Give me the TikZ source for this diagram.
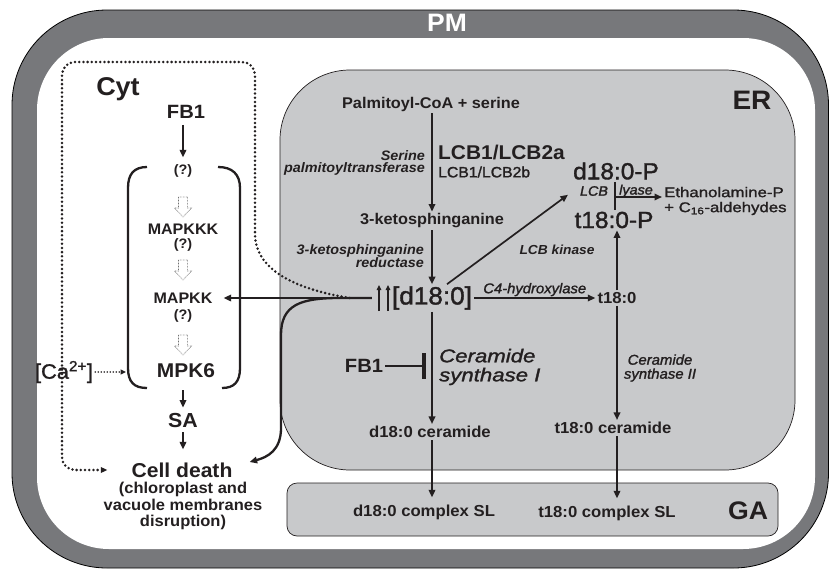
\documentclass[tikz,border=0pt]{standalone}
\usepackage{fontspec}
\setmainfont{Liberation Sans}[FakeStretch=1.05]
\newfontfamily\medf{Liberation Sans}[FakeStretch=1.05,FakeBold=1.5]
\newfontfamily\widef{Liberation Sans}[FakeStretch=1.2,FakeBold=1.5]
\usetikzlibrary{arrows.meta,calc}
\definecolor{ink}{HTML}{231F20}
\definecolor{ergray}{HTML}{C8C9CB}
\definecolor{pmgray}{HTML}{77787B}
\definecolor{blkgray}{HTML}{707070}
\newcommand\myfs[2]{\fontsize{#1}{#2}\selectfont}
\tikzset{
  base/.style={inner sep=2pt,text=ink},
  arr/.style={draw=ink,line width=1.7pt,-{Triangle[length=7.5pt,width=6.5pt]}},
  uparr/.style={draw=ink,line width=1.2pt,-{Triangle[length=5pt,width=4.5pt]}},
  dotln/.style={draw=ink,line width=2.8pt,line cap=round,dash pattern=on 0pt off 4.2pt},
  brk/.style={draw=ink,line width=2.3pt},
  blkline/.style={draw=blkgray,line width=0.6pt,dash pattern=on 0.7pt off 0.8pt},
  blk/.pic={\draw[blkline] (-4.5,0) -- (4.5,0) -- (4.5,11) -- (8.5,11) -- (0,20) -- (-8.5,11) -- (-4.5,11) -- cycle;}
}
\begin{document}
\begin{tikzpicture}[x=1pt,y=-1pt]
\useasboundingbox (0,0) rectangle (829,570);
\fill[white] (0,0) rectangle (829,570);
% plasma membrane
\draw[draw=black,line width=0.8pt,fill=pmgray,rounded corners=95pt] (12,10) rectangle (828.5,568);
\fill[white,rounded corners=72pt] (37,38) rectangle (815,549);
\node[inner sep=1pt,text=white,font=\bfseries\myfs{25.2}{25}] (pm) at (447,23) {PM};
% ER and GA
\draw[draw=ink,line width=0.7pt,fill=ergray,rounded corners=70pt] (280,70) rectangle (795,470);
\draw[draw=ink,line width=0.7pt,fill=ergray,rounded corners=10pt] (287,483) rectangle (778,536);
\node[base,font=\bfseries\myfs{26.7}{27}] (er) at (752,100) {ER};
\node[base,font=\bfseries\myfs{25.4}{26}] (ga) at (748,511) {GA};

% cytosol column
\node[base,font=\bfseries\myfs{25.7}{26}] (cyt) at (118,89) {Cyt};
\node[base,inner ysep=6pt,font=\bfseries\myfs{19.2}{20}] (fb1) at (186,112) {FB1};
\node[base,inner ysep=7pt,font=\bfseries\myfs{13.7}{14}] (q1) at (183,171) {(?)};
\node[base,font=\bfseries\myfs{15.3}{16}] (mkkk) at (183,229) {MAPKKK};
\node[base,font=\bfseries\myfs{13.7}{14}] (q2) at (183,245) {(?)};
\node[base,font=\bfseries\myfs{15.3}{16}] (mkk) at (183,298) {MAPKK};
\node[base,font=\bfseries\myfs{13.7}{14}] (q3) at (183,316) {(?)};
\node[base,font=\bfseries\myfs{19.9}{20}] (mpk6) at (186,371) {MPK6};
\node[base,font=\bfseries\myfs{20.3}{21}] (sa) at (183,421) {SA};
\node[base,font=\bfseries\myfs{20.1}{21}] (cd) at (182,470) {Cell death};
\node[base,align=center,font=\bfseries\myfs{15.7}{16.5}] (cdsub) at (183,506) {(chloroplast and\\vacuole membranes\\disruption)};
\node[base,font=\medf\myfs{20.8}{21}] (ca) at (64,372) {[Ca\textsuperscript{2+}]};
\pic at (183,197) {blk};
\pic at (183,260) {blk};
\pic at (183,335) {blk};
% brackets
\draw[brk] (147,167) .. controls (134,167) and (128,174) .. (128,188) -- (128,368) .. controls (128,382) and (134,388) .. (147,388);
\draw[brk] (218,167) .. controls (232,167) and (240,174) .. (240,188) -- (240,368) .. controls (240,382) and (234,388) .. (222,388);
\coordinate (brL) at (128,372);

% ER pathway
\node[base,font=\bfseries\myfs{15.5}{16}] (palm) at (431,104) {Palmitoyl-CoA + serine};
\node[base,anchor=east,align=right,font=\bfseries\itshape\myfs{13.7}{12.5}] (spt) at (427,163) {Serine\\palmitoyltransferase};
\node[base,anchor=west,font=\bfseries\myfs{19.9}{20}] (lcba) at (436,152) {LCB1/LCB2a};
\node[base,anchor=west,font=\medf\myfs{15}{15}] (lcbb) at (436,172) {LCB1/LCB2b};
\node[base,font=\bfseries\myfs{15.5}{16}] (keto) at (432,221) {3-ketosphinganine};
\node[base,anchor=east,align=right,font=\bfseries\itshape\myfs{13.7}{12.5}] (ksr) at (426,256) {3-ketosphinganine\\reductase};
\node[base,font=\medf\myfs{24.9}{25}] (d18) at (432,298) {[d18:0]};
\node[base,font=\bfseries\myfs{15.9}{16}] (t18) at (617,298) {t18:0};
\node[base,font=\medf\myfs{23.3}{24}] (dP) at (616,171) {d18:0-P};
\node[base,font=\medf\myfs{23.3}{24}] (tP) at (614,220) {t18:0-P};
\node[base,font=\medf\itshape\myfs{13.7}{14}] (lcbl) at (594,191) {LCB};
\node[base,font=\medf\itshape\myfs{13.7}{14}] (lya) at (636,191) {lyase};
\node[base,anchor=west,align=left,font=\widef\myfs{14}{15}] (eth) at (662,201) {Ethanolamine-P\\+ C\textsubscript{16}-aldehydes};
\node[base,font=\bfseries\itshape\myfs{13.1}{14}] (lcbk) at (557,250) {LCB kinase};
\node[base,anchor=west,align=left,font=\widef\itshape\myfs{18.5}{19}] (cs1) at (437,367) {Ceramide\\synthase I};
\node[base,align=center,font=\medf\itshape\myfs{14.2}{14}] (cs2) at (660,368) {Ceramide\\synthase II};
\node[base,font=\bfseries\myfs{19.2}{20}] (fb1b) at (364,366) {FB1};
\node[base,font=\bfseries\myfs{15.9}{16}] (dcer) at (430,432) {d18:0 ceramide};
\node[base,font=\bfseries\myfs{15.9}{16}] (tcer) at (613,428) {t18:0 ceramide};
\node[base,font=\bfseries\myfs{15.9}{16}] (dsl) at (424,512) {d18:0 complex SL};
\node[base,font=\bfseries\myfs{15.9}{16}] (tsl) at (607,513) {t18:0 complex SL};

% connectors, cytosol
\draw[arr] (q1.north |- fb1.south) -- (q1.north);
\draw[arr,shorten <=10pt,shorten >=4pt] (sa.north |- mpk6.south) -- (sa.north);
\draw[arr,shorten <=2pt,shorten >=11pt] (sa.south) -- (sa.south |- cd.north);
\draw[draw=ink,line width=1.8pt,line cap=round,dash pattern=on 0pt off 3pt,-{Triangle[length=5.5pt,width=5pt]}] (ca.east) -- ([xshift=-2pt]brL);

% connectors, ER
\coordinate (jn) at ($(d18.west)+(-18pt,0)$);
\draw[uparr] (379,311) -- (379,285);
\draw[uparr] (388,311) -- (388,285);
\draw[arr] (keto.north |- palm.south) -- (keto.north);
\draw[arr] (keto.south) -- (keto.south |- d18.north);
\draw[arr] (d18.south) -- (d18.south |- dcer.north);
\draw[arr,shorten >=5pt] (d18.south |- dcer.south) -- (d18.south |- dsl.north);
\draw[arr] (t18.south) -- (t18.south |- tcer.north);
\draw[arr,shorten >=5pt] (t18.south |- tcer.south) -- (t18.south |- tsl.north);
\draw[arr] (t18.north) -- (t18.north |- tP.south);
\draw[arr] (d18.east) -- node[base,above,inner sep=1pt,font=\medf\itshape\myfs{14.1}{14}] (c4) {C4-hydroxylase} (t18.west);
\draw[arr] ([xshift=15pt]d18.north) -- ([xshift=-3pt,yshift=-13pt]dP.south west);
\coordinate (ly) at (615,197);
\draw[draw=ink,line width=2pt] (ly |- dP.south) -- (ly |- tP.north);
\draw[arr] (ly) -- (eth.west |- ly);
\draw[draw=ink,line width=2.8pt,-{Bar[width=26pt,line width=4pt]}] (fb1b.east) -- ([xshift=-6pt]fb1b.east -| d18.south);

% d18 to cytosol
\draw[arr,line width=1.9pt] (jn) -- ([xshift=9pt]jn -| mkk.east);
\draw[arr,line width=2.3pt] (jn) -- (340,298) .. controls (300,298) and (281,305) .. (281,335) -- (281,428) .. controls (281,450) and (268,457) .. ([xshift=15pt,yshift=8pt]cd.east);
\draw[dotln,-{Triangle[length=6.5pt,width=5.5pt]}] ([xshift=-22pt]jn) .. controls (300,290) and (256,272) .. (255,235) [rounded corners=13pt] -- (255,62) -- (62,62) -- (62,470) -- ([xshift=-22pt]cd.west);
\end{tikzpicture}
\end{document}
